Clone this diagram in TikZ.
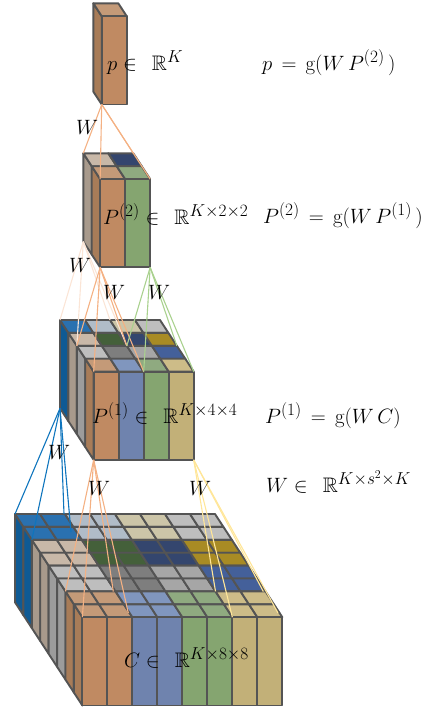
\documentclass[tikz,border=0pt]{standalone}
\usepackage{amsmath}
\usepackage{amssymb}
\usetikzlibrary{positioning,calc}

\DeclareMathSizes{21}{21}{16}{12}

\definecolor{edgegray}{HTML}{545454}
\definecolor{sideblue}{HTML}{0F5A94}
\definecolor{sidetaupe}{HTML}{A89A8C}
\definecolor{sidegray}{HTML}{9C9C9C}
\definecolor{sidebrown}{HTML}{A87C58}
% top faces
\definecolor{topblue}{HTML}{2A71B0}
\definecolor{topsteel}{HTML}{B0BCC8}
\definecolor{topsand}{HTML}{CCC5A8}
\definecolor{topsilver}{HTML}{BEBEBE}
\definecolor{toptaupe}{HTML}{C8B8A8}
\definecolor{topforest}{HTML}{44603A}
\definecolor{topnavy}{HTML}{34466E}
\definecolor{topgold}{HTML}{A88B24}
\definecolor{topdim}{HTML}{7E7E7E}
\definecolor{topgray}{HTML}{A6A6A6}
\definecolor{topcobalt}{HTML}{44609A}
\definecolor{toptan}{HTML}{C49A78}
\definecolor{toplilac}{HTML}{8096BE}
\definecolor{topsage}{HTML}{8FAA80}
\definecolor{topkhaki}{HTML}{CDBC88}
% front faces
\definecolor{frontbrown}{HTML}{C08A62}
\definecolor{frontblue}{HTML}{6F83AE}
\definecolor{frontgreen}{HTML}{85A570}
\definecolor{frontkhaki}{HTML}{C2B078}
% fans
\definecolor{fanorange}{HTML}{F4B183}
\definecolor{fanpale}{HTML}{FBE5D6}
\definecolor{fangreen}{HTML}{A9D18E}
\definecolor{fanblue}{HTML}{0F75BD}
\definecolor{fanyellow}{HTML}{FFE699}

% name, x, y, layers, repeat, side colours, top colours, front colours
\newcommand{\cuboid}[8]{
    \begin{scope}[shift={(#2,#3)}, x={(25pt,0pt)}, y={(8.42pt,-12.9pt)}, z={(0pt,-88.3pt)}]
        \foreach \colr [count=\s from 0] in {#6} {
            \foreach \k in {1,...,#5} {
                \pgfmathtruncatemacro{\i}{\s*#5+\k-1}
                \draw[face, fill=\colr] (0,\i,0) -- (0,\i+1,0) -- (0,\i+1,1) -- (0,\i,1) -- cycle;
            }
        }
        \foreach \colrow [count=\s from 0] in {#7} {
            \foreach \colr [count=\t from 0] in \colrow {
                \foreach \k in {1,...,#5} {
                    \foreach \m in {1,...,#5} {
                        \pgfmathtruncatemacro{\i}{\s*#5+\k-1}
                        \pgfmathtruncatemacro{\j}{\t*#5+\m-1}
                        \draw[face, fill=\colr] (\j,\i,0) -- (\j+1,\i,0) -- (\j+1,\i+1,0) -- (\j,\i+1,0) -- cycle;
                    }
                }
            }
        }
        \foreach \colr [count=\t from 0] in {#8} {
            \foreach \m in {1,...,#5} {
                \pgfmathtruncatemacro{\j}{\t*#5+\m-1}
                \draw[face, fill=\colr] (\j,#4,0) -- (\j+1,#4,0) -- (\j+1,#4,1) -- (\j,#4,1) -- cycle;
            }
        }
        % corners for the fans
        \foreach \j in {0,...,#4} {
            \foreach \i in {0,...,#4} {
                \coordinate (#1-\j-\i) at (\j,\i,0);
                \coordinate (#1-b-\j-\i) at (\j,\i,1);
            }
        }
    \end{scope}
}
\newcommand{\fan}[6]{
    \foreach \e in {#3,#4,#5,#6} {
        \draw[link, draw=#1] (#2) -- (\e);
    }
}

\begin{document}
\begin{tikzpicture}[
        x=1pt, y=-1pt,
        face/.style={draw=edgegray, line width=1.9pt, line join=round},
        link/.style={line width=1.1pt},
        eqn/.style={anchor=base west, inner sep=0pt, font=\fontsize{21}{25}\selectfont},
        wlabel/.style={anchor=center, inner sep=0pt, font=\fontsize{21}{25}\selectfont}
    ]
    \useasboundingbox (0,0) rectangle (440,712);

    % --- Cubes, top to bottom ---
    \cuboid{pv}{93.3}{3.3}{1}{1}{sidebrown}{{toptan}}{frontbrown}
    \cuboid{ptwo}{83.3}{153.3}{2}{1}{sidetaupe,sidebrown}{{toptaupe,topnavy},{toptan,topsage}}{frontbrown,frontgreen}
    \cuboid{pone}{60}{320}{4}{1}{sideblue,sidetaupe,sidegray,sidebrown}{{topblue,topsteel,topsand,topsilver},{toptaupe,topforest,topnavy,topgold},{topsilver,topdim,topgray,topcobalt},{toptan,toplilac,topsage,topkhaki}}{frontbrown,frontblue,frontgreen,frontkhaki}
    \cuboid{cv}{15}{514}{8}{2}{sideblue,sidetaupe,sidegray,sidebrown}{{topblue,topsteel,topsand,topsilver},{toptaupe,topforest,topnavy,topgold},{topsilver,topdim,topgray,topcobalt},{toptan,toplilac,topsage,topkhaki}}{frontbrown,frontblue,frontgreen,frontkhaki}

    % --- Fans between the cubes ---
    \fan{fanorange}{pv-b-0-1}{ptwo-0-0}{ptwo-0-2}{ptwo-2-0}{ptwo-2-2}
    \fan{fanpale}{ptwo-b-0-0}{pone-0-0}{pone-0-2}{pone-2-0}{pone-2-2}
    \fan{fanorange}{ptwo-b-0-2}{pone-0-2}{pone-0-4}{pone-2-2}{pone-2-4}
    \fan{fangreen}{ptwo-b-2-2}{pone-2-2}{pone-2-4}{pone-4-2}{pone-4-4}
    \coordinate (blueback) at (64,514);
    \coordinate (bluefront) at (71,532);
    \fan{fanblue}{pone-b-0-0}{cv-0-0}{cv-0-2}{blueback}{bluefront}
    \coordinate (orangeback) at (113.3,591.5);
    \coordinate (orangefront) at (128.3,613);
    \fan{fanorange}{pone-b-0-4}{cv-0-6}{cv-0-8}{orangeback}{orangefront}
    \coordinate (yellowback) at (263.3,591.5);
    \coordinate (yellowfront) at (278,613);
    \fan{fanyellow}{pone-b-4-4}{cv-6-6}{cv-6-8}{yellowback}{yellowfront}

    % --- Labels on the cubes ---
    \node (plabel) [eqn] at (107,70) {$p\in\;\,\mathbb{R}^{K}$};
    \node (ptwolabel) [eqn] at (103,224) {$P^{(2)}\in\;\,\mathbb{R}^{K\times 2\times 2}$};
    \node (ponelabel) [eqn] at (92,423) {$P^{(1)}\in\;\,\mathbb{R}^{K\times 4\times 4}$};
    \node (clabel) [eqn] at (124,667) {$C\in\;\,\mathbb{R}^{K\times 8\times 8}$};

    % --- Equations on the right ---
    \node (peq) [eqn] at (262,70) {$p\,=\,\mathrm{g}(W\,P^{(2)}\,)$};
    \node (ptwoeq) [eqn] at (263,223) {$P^{(2)}\,=\,\mathrm{g}(W\,P^{(1)}\,)$};
    \node (poneeq) [eqn] at (265,423) {$P^{(1)}\,=\,\mathrm{g}(W\,C)$};
    \node (weq) [eqn] at (266,492) {$W\in\;\,\mathbb{R}^{K\times s^{2}\times K}$};

    % --- W on the fans ---
    \node (wa) [wlabel] at (87,127) {$W$};
    \node (wb) [wlabel] at (80,265) {$W$};
    \node (wc) [wlabel] at (114,292) {$W$};
    \node (wd) [wlabel] at (159,292) {$W$};
    \node (we) [wlabel] at (59,452) {$W$};
    \node (wf) [wlabel] at (99,488) {$W$};
    \node (wg) [wlabel] at (200,488) {$W$};
\end{tikzpicture}
\end{document}
